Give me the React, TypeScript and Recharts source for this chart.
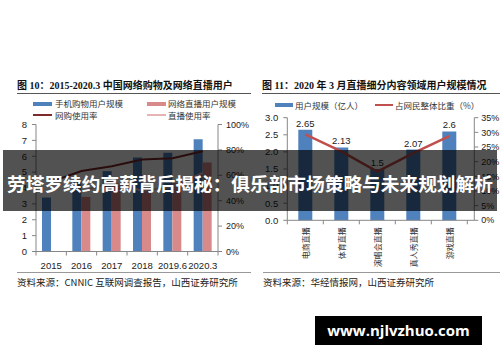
import React from 'react';
import { ComposedChart, Bar, Line, XAxis, YAxis, LabelList } from 'recharts';

// ---------- Left chart data (图10) ----------
const years = ['2015', '2016', '2017', '2018', '2019.6', '2020.3'];
const mobileShoppingUsers = [3.4, 4.41, 5.06, 5.92, 6.22, 7.07];
const liveUsers: (number | null)[] = [null, 3.44, 4.22, 3.97, 4.33, 5.6];
const shoppingRate = [55.0, 63.4, 67.2, 72.5, 73.4, 78.9];
const liveRate: (number | null)[] = [null, 47.1, 54.7, 47.9, 50.7, 62.0];
const leftTicks = [0, 1, 2, 3, 4, 5, 6, 7, 8];
const leftPctTicks = [0, 20, 40, 60, 80, 100];

// ---------- Right chart data (图11) ----------
const genres = ['电商直播', '体育直播', '演唱会直播', '真人秀直播', '游戏直播'];
const genreUsers = [2.65, 2.13, 1.5, 2.07, 2.6];
const genreShare = [29.3, 23.5, 16.6, 22.9, 28.7];
const rightTicks = [0, 0.5, 1, 1.5, 2, 2.5, 3];
const rightPctTicks = [0, 5, 10, 15, 20, 25, 30, 35];

const leftData = years.map((year, i) => ({
  year,
  mobile: mobileShoppingUsers[i],
  live: liveUsers[i],
  shopRate: shoppingRate[i],
  liveRate: liveRate[i],
}));
const rightData = genres.map((g, i) => ({ genre: g, users: genreUsers[i], share: genreShare[i] }));

const AXIS = '#868686';
const BLUE = '#4f81bd';
const PINK = '#d8898a';
const DARKRED = '#7f2a2a';
const LIGHTPINK = '#e6b4b3';
const RED = '#c0504d';
const NUM_FONT = "'Liberation Sans', Arial, sans-serif";
const CJK = "'Noto Sans CJK SC', sans-serif";
const TITLE_FONT = "'Liberation Serif', 'Noto Sans CJK SC', serif";
const RIGHT_PAD = 7;

const LeftXTick = (props: any) => {
  const { x, y, payload, index, visibleTicksCount, width } = props;
  const band = (width || 182) / (visibleTicksCount || 6);
  return (
    <g>
      <line x1={x - band / 2} x2={x - band / 2} y1={y} y2={y + 4} stroke={AXIS} />
      {index === visibleTicksCount - 1 && (
        <line x1={x + band / 2} x2={x + band / 2} y1={y} y2={y + 4} stroke={AXIS} />
      )}
      <text x={x} y={y + 14} textAnchor="middle" dominantBaseline="central" fontSize={9.5} fill="#222" fontFamily={NUM_FONT}>
        {payload.value}
      </text>
    </g>
  );
};

const RightXTick = (props: any) => {
  const { x, y, payload, index, visibleTicksCount, width } = props;
  const band = ((width || 187) - RIGHT_PAD) / (visibleTicksCount || 5);
  return (
    <g>
      <line x1={x - band / 2} x2={x - band / 2} y1={y} y2={y + 4} stroke={AXIS} />
      {index === visibleTicksCount - 1 && (
        <line x1={x + band / 2} x2={x + band / 2} y1={y} y2={y + 4} stroke={AXIS} />
      )}
      <g transform={`translate(${x},${y})`}>
        <text transform="rotate(-90)" x={-7} y={0} textAnchor="end" dominantBaseline="central" fontSize={8} fill="#333" fontFamily={CJK}>
          {payload.value}
        </text>
      </g>
    </g>
  );
};

const abs = (s: React.CSSProperties): React.CSSProperties => ({ position: 'absolute', whiteSpace: 'nowrap', ...s });

export default function App() {
  return (
    <div style={{ position: 'absolute', left: 0, top: 0, width: 500, height: 362, background: '#fff', overflow: 'hidden' }}>
      {/* Titles */}
      <div style={abs({ left: 17, top: 77.5, fontSize: 10, lineHeight: '15px', fontWeight: 700, fontFamily: TITLE_FONT, color: '#111' })}>
        图 10：2015-2020.3 中国网络购物及网络直播用户
      </div>
      <div style={abs({ left: 17, top: 93, width: 234, height: 1, background: '#555' })} />
      <div style={abs({ left: 262, top: 77.5, fontSize: 10, lineHeight: '15px', fontWeight: 700, fontFamily: TITLE_FONT, color: '#111' })}>
        图 11：2020 年 3 月直播细分内容领域用户规模情况
      </div>
      <div style={abs({ left: 262, top: 93, width: 238, height: 1, background: '#555' })} />

      {/* Left legend */}
      <div style={abs({ left: 33, top: 101.5, width: 19, height: 4, background: BLUE })} />
      <div style={abs({ left: 55, top: 97, fontSize: 8.5, lineHeight: '13px', fontFamily: CJK, color: '#333' })}>手机购物用户规模</div>
      <div style={abs({ left: 147, top: 101.5, width: 19, height: 4, background: PINK })} />
      <div style={abs({ left: 168, top: 97, fontSize: 8.5, lineHeight: '13px', fontFamily: CJK, color: '#333' })}>网络直播用户规模</div>
      <div style={abs({ left: 33, top: 114, width: 19, height: 2, background: DARKRED })} />
      <div style={abs({ left: 55, top: 108.5, fontSize: 8.5, lineHeight: '13px', fontFamily: CJK, color: '#333' })}>网购使用率</div>
      <div style={abs({ left: 147, top: 114, width: 19, height: 2, background: LIGHTPINK })} />
      <div style={abs({ left: 168, top: 108.5, fontSize: 8.5, lineHeight: '13px', fontFamily: CJK, color: '#333' })}>直播使用率</div>

      {/* Right legend */}
      <div style={abs({ left: 275, top: 103, width: 18, height: 4, background: BLUE })} />
      <div style={abs({ left: 295, top: 98.5, fontSize: 8.5, lineHeight: '13px', fontFamily: CJK, color: '#333' })}>用户规模（亿人）</div>
      <div style={abs({ left: 375, top: 104, width: 18, height: 2, background: RED })} />
      <div style={abs({ left: 395, top: 98.5, fontSize: 8.5, lineHeight: '13px', fontFamily: CJK, color: '#333' })}>占网民整体比重（%）</div>

      {/* Left chart */}
      <div style={abs({ left: 0, top: 0 })}>
        <ComposedChart width={250} height={290} data={leftData} margin={{ top: 124.5, right: 0, bottom: 8.5, left: 0 }} barGap={0}>
          <XAxis dataKey="year" height={30} axisLine={{ stroke: AXIS }} tickLine={false} tickSize={0} tickMargin={0} tick={<LeftXTick />} interval={0} />
          <YAxis yAxisId="left" width={36} domain={[0, 8]} ticks={leftTicks} interval={0} axisLine={{ stroke: AXIS }} tickLine={{ stroke: AXIS }} tickSize={4} tickMargin={5} tick={{ fontSize: 9.5, fill: '#222', fontFamily: NUM_FONT }} />
          <YAxis yAxisId="right" orientation="right" width={32} domain={[0, 100]} ticks={leftPctTicks} interval={0} tickFormatter={(v: number) => `${v}%`} axisLine={{ stroke: AXIS }} tickLine={{ stroke: AXIS }} tickSize={4} tickMargin={4} tick={{ fontSize: 9, fill: '#222', fontFamily: NUM_FONT }} />
          <Bar yAxisId="left" dataKey="mobile" fill={BLUE} barSize={9} isAnimationActive={false} />
          <Bar yAxisId="left" dataKey="live" fill={PINK} barSize={9} isAnimationActive={false} />
          <Line yAxisId="right" dataKey="liveRate" stroke={LIGHTPINK} strokeWidth={2} dot={false} isAnimationActive={false} />
          <Line yAxisId="right" dataKey="shopRate" stroke={DARKRED} strokeWidth={2} dot={false} isAnimationActive={false} />
        </ComposedChart>
      </div>

      {/* Right chart */}
      <div style={abs({ left: 250, top: 0 })}>
        <ComposedChart width={250} height={290} data={rightData} margin={{ top: 117.7, right: 0, bottom: 9.7, left: 0 }}>
          <XAxis dataKey="genre" height={60} padding={{ left: 0, right: RIGHT_PAD }} axisLine={{ stroke: AXIS }} tickLine={false} tickSize={0} tickMargin={0} tick={<RightXTick />} interval={0} />
          <YAxis yAxisId="left" width={37.3} domain={[0, 3]} ticks={rightTicks} interval={0} tickFormatter={(v: number) => v.toFixed(1)} axisLine={{ stroke: AXIS }} tickLine={{ stroke: AXIS }} tickSize={4} tickMargin={5} tick={{ fontSize: 9.5, fill: '#222', fontFamily: NUM_FONT }} />
          <YAxis yAxisId="right" orientation="right" width={25.7} domain={[0, 35]} ticks={rightPctTicks} interval={0} tickFormatter={(v: number) => `${v}%`} axisLine={{ stroke: AXIS }} tickLine={{ stroke: AXIS }} tickSize={4} tickMargin={3} tick={{ fontSize: 9, fill: '#222', fontFamily: NUM_FONT }} />
          <Bar yAxisId="left" dataKey="users" fill={BLUE} barSize={14} isAnimationActive={false}>
            <LabelList dataKey="users" position="top" offset={3} fontSize={9.5} fill="#222" fontFamily={NUM_FONT} />
          </Bar>
          <Line yAxisId="right" dataKey="share" stroke={RED} strokeWidth={2.5} dot={false} isAnimationActive={false} />
        </ComposedChart>
      </div>

      {/* Sources */}
      <div style={abs({ left: 17, top: 272, width: 234, height: 1, background: '#999' })} />
      <div style={abs({ left: 17, top: 275, fontSize: 9.5, lineHeight: '14px', fontFamily: CJK, color: '#222' })}>
        资料来源：CNNIC 互联网调查报告，山西证券研究所
      </div>
      <div style={abs({ left: 263, top: 272, width: 237, height: 1, background: '#999' })} />
      <div style={abs({ left: 263, top: 275, fontSize: 9.5, lineHeight: '14px', fontFamily: CJK, color: '#222' })}>
        资料来源：华经情报网，山西证券研究所
      </div>

      {/* Overlay banner */}
      <div style={abs({ left: 3, top: 150, width: 494, height: 61, background: 'rgba(0,0,0,0.68)' })} />
      <div style={abs({ left: 0, top: 169, width: 500, textAlign: 'center', fontSize: 18.7, lineHeight: '28px', fontWeight: 700, fontFamily: CJK, color: '#fff' })}>
        劳塔罗续约高薪背后揭秘：俱乐部市场策略与未来规划解析
      </div>

      {/* Watermark box */}
      <div style={abs({ left: 315, top: 316, width: 167, height: 29, background: '#000', color: '#fff', fontFamily: "'Open Sans', sans-serif", fontWeight: 700, fontSize: 15, lineHeight: '29px', textAlign: 'center' })}>
        www.njlvzhuo.com
      </div>
    </div>
  );
}
